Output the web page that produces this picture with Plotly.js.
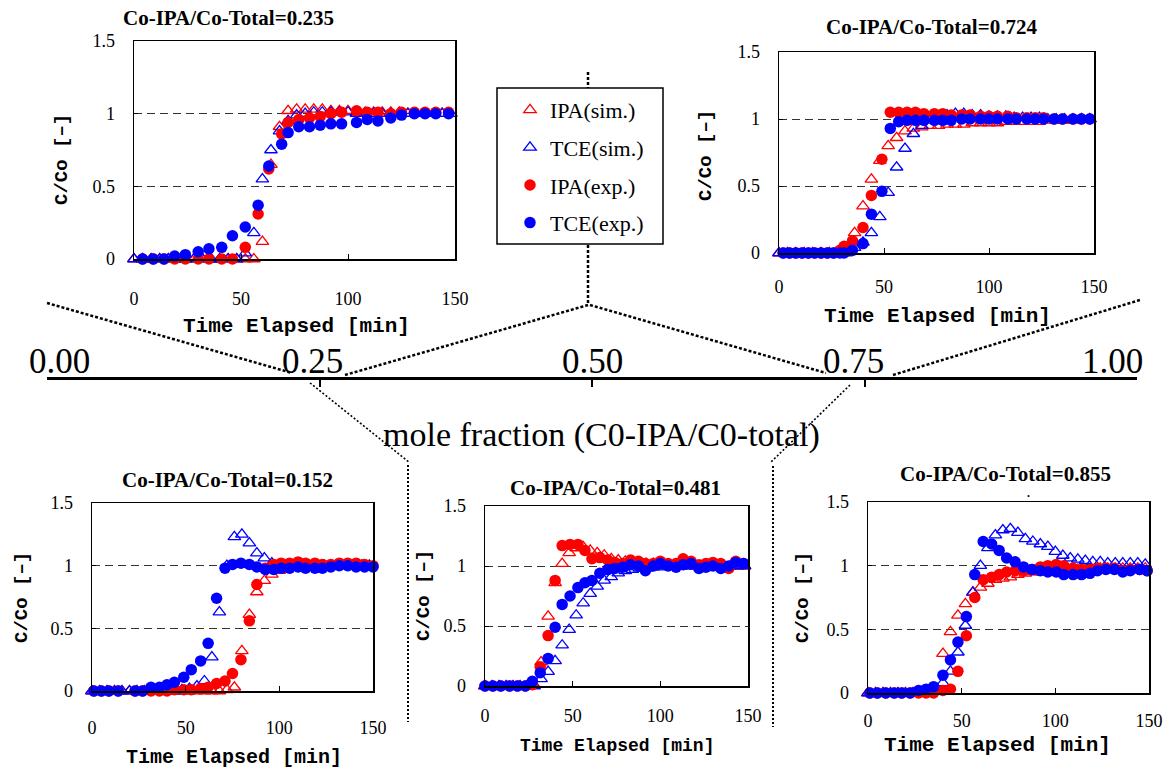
<!DOCTYPE html>
<html>
<head>
<meta charset="utf-8">
<script src="https://cdn.plot.ly/plotly-3.0.1.min.js"></script>
<style>
html, body { margin: 0; padding: 0; background: #ffffff; }
#chart { width: 1172px; height: 775px; }
</style>
</head>
<body>
<div id="chart"></div>
<script>
// ---- breakthrough data: C/Co vs elapsed time [min] ----
const panelTitles = [
  'Co-IPA/Co-Total=0.235',
  'Co-IPA/Co-Total=0.724',
  'Co-IPA/Co-Total=0.152',
  'Co-IPA/Co-Total=0.481',
  'Co-IPA/Co-Total=0.855'
];
const seriesNames = ['IPA(sim.)', 'TCE(sim.)', 'IPA(exp.)', 'TCE(exp.)'];

// simulation time grid
const tSim = [0, 4, 8, 12, 16, 20, 24, 28, 32, 36, 40, 44, 48, 52, 56, 60, 64, 68, 72, 76,
  80, 84, 88, 92, 96, 100, 104, 108, 112, 116, 120, 124, 128, 132, 136, 140, 144, 148];

// 0.235
const ipaSim1 = [0, 0, 0, 0, 0, 0, 0, 0, 0, 0, 0, 0, 0, 0, 0, 0.12, 0.65, 0.91, 1.02, 1.03,
  1.03, 1.03, 1.03, 1.02, 1.02, 1.02, 1.01, 1.01, 1.01, 1.01, 1.01, 1.01, 1.0, 1.0, 1.0, 1.0, 1.0, 1.0];
const tceSim1 = [0, 0, 0, 0, 0, 0, 0, 0, 0, 0, 0, 0, 0, 0.04, 0.18, 0.55, 0.75, 0.88, 0.95, 0.99,
  1.0, 1.01, 1.01, 1.01, 1.01, 1.01, 1.0, 1.0, 1.0, 1.0, 1.0, 1.0, 1.0, 1.0, 1.0, 1.0, 1.0, 1.0];
const tExp1 = [4, 9, 14, 19, 24, 30, 35, 41, 46, 52, 58, 63, 69, 72, 77, 82, 87, 92, 97, 104,
  109, 114, 120, 125, 131, 136, 141, 147];
const ipaExp1 = [0, 0, 0, 0, 0, 0, 0, 0, 0, 0.08, 0.31, 0.62, 0.86, 0.94, 0.96, 0.97, 0.98, 1.0, 1.01, 1.02,
  1.01, 1.01, 1.0, 1.01, 1.01, 1.01, 1.01, 1.01];
const tceExp1 = [0, 0, 0, 0.02, 0.03, 0.05, 0.07, 0.08, 0.16, 0.22, 0.37, 0.64, 0.79, 0.87, 0.91, 0.91, 0.92, 0.93, 0.93, 0.94,
  0.96, 0.95, 0.97, 0.99, 1.0, 1.0, 1.0, 1.0];

// 0.724
const ipaSim2 = [0, 0, 0, 0, 0, 0, 0, 0, 0.02, 0.15, 0.35, 0.55, 0.69, 0.80, 0.86, 0.91, 0.93, 0.94, 0.95, 0.95,
  0.96, 0.96, 0.96, 0.97, 0.97, 0.97, 0.97, 0.98, 0.98, 0.98, 0.98, 0.98, 0.99, 0.99, 0.99, 0.99, 1.0, 1.0];
const tceSim2 = [0, 0, 0, 0, 0, 0, 0, 0, 0, 0.04, 0.08, 0.15, 0.27, 0.45, 0.64, 0.78, 0.89, 0.95, 0.99, 1.02,
  1.03, 1.04, 1.04, 1.03, 1.03, 1.02, 1.02, 1.02, 1.01, 1.01, 1.01, 1.01, 1.0, 1.0, 1.0, 1.0, 1.0, 1.0];
const tExp2 = [2, 5, 8, 11, 14, 17, 20, 23, 26, 29, 31, 35, 40, 44, 49, 53, 57, 61, 65, 69,
  74, 78, 82, 87, 91, 96, 100, 104, 109, 113, 118, 122, 126, 131, 135, 140, 144, 148];
const ipaExp2 = [0, 0, 0, 0, 0, 0, 0, 0, 0, 0.02, 0.05, 0.09, 0.19, 0.43, 0.70, 1.05, 1.05, 1.05, 1.05, 1.04,
  1.04, 1.04, 1.03, 1.03, 1.03, 1.02, 1.02, 1.02, 1.02, 1.01, 1.01, 1.01, 1.01, 1.0, 1.0, 1.0, 1.0, 1.0];
const tceExp2 = [0, 0, 0, 0, 0, 0, 0, 0, 0, 0, 0, 0.02, 0.07, 0.29, 0.46, 0.93, 0.98, 0.99, 0.99, 0.99,
  0.99, 0.99, 0.99, 1.0, 1.0, 1.0, 1.0, 1.0, 1.0, 1.0, 1.0, 1.0, 1.0, 1.0, 1.0, 1.0, 1.0, 1.0];

// 0.152
const ipaSim3 = [0, 0, 0, 0, 0, 0, 0, 0, 0, 0, 0, 0, 0, 0, 0, 0, 0, 0, 0.01, 0.03,
  0.32, 0.61, 0.79, 0.88, 0.93, 0.96, 0.98, 0.99, 1.0, 1.0, 1.0, 1.0, 1.0, 1.0, 1.0, 1.0, 1.0, 1.0];
const tceSim3 = [0, 0, 0, 0, 0, 0, 0, 0, 0, 0, 0, 0, 0.01, 0.02, 0.04, 0.08, 0.27, 0.63, 1.0, 1.23,
  1.25, 1.18, 1.10, 1.06, 1.02, 1.01, 1.0, 1.0, 1.0, 1.0, 1.0, 1.0, 1.0, 1.0, 1.0, 1.0, 1.0, 1.0];
const tExp3 = [1, 5, 9, 14, 23, 27, 31.5, 36, 40, 44, 49, 53, 58, 62, 66.5, 71, 75, 79.5, 84, 88,
  92.5, 97, 101, 105.5, 110, 114, 119, 123, 127.5, 132, 136.5, 141, 145.5, 150];
const ipaExp3 = [0, 0, 0, 0, 0, 0, 0, 0, 0, 0.01, 0.01, 0.01, 0.02, 0.03, 0.06, 0.08, 0.14, 0.25, 0.56, 0.85,
  0.98, 1.01, 1.02, 1.02, 1.03, 1.02, 1.02, 1.01, 1.01, 1.02, 1.02, 1.02, 1.01, 1.0];
const tceExp3 = [0, 0, 0, 0, 0, 0, 0.03, 0.03, 0.05, 0.07, 0.11, 0.17, 0.24, 0.38, 0.74, 0.98, 1.01, 1.02, 1.01, 0.99,
  0.97, 0.97, 0.98, 0.98, 0.99, 0.98, 0.98, 0.98, 0.99, 1.0, 1.0, 0.99, 0.99, 0.99];

// 0.481
const ipaSim4 = [0, 0, 0, 0, 0, 0, 0, 0.01, 0.2, 0.58, 0.86, 1.02, 1.11, 1.15, 1.16, 1.13, 1.11, 1.09, 1.06, 1.05,
  1.04, 1.03, 1.03, 1.02, 1.02, 1.01, 1.01, 1.01, 1.01, 1.0, 1.0, 1.0, 1.0, 1.0, 1.0, 1.0, 1.0, 1.0];
const tceSim4 = [0, 0, 0, 0, 0, 0, 0, 0, 0.06, 0.12, 0.21, 0.34, 0.47, 0.59, 0.69, 0.77, 0.83, 0.88, 0.91, 0.94,
  0.96, 0.97, 0.98, 0.98, 0.99, 0.99, 1.0, 1.0, 1.0, 1.0, 1.0, 1.0, 1.0, 1.0, 1.0, 1.0, 1.0, 1.0];
const tExp4 = [0, 4.5, 9, 14, 18.5, 23, 27, 31.5, 36, 40, 44, 48.5, 53, 57, 61, 65.5, 70, 74, 78.5, 83,
  87.5, 91.5, 96, 100, 104.5, 109, 113, 117.5, 122, 126, 130, 134.5, 139, 143, 147.5];
const ipaExp4 = [0, 0, 0, 0, 0, 0, 0.01, 0.16, 0.42, 0.88, 1.17, 1.18, 1.18, 1.13, 1.06, 1.07, 1.05, 1.03, 1.02, 1.05,
  1.04, 1.02, 1.02, 1.04, 1.02, 1.02, 1.06, 1.04, 1.01, 1.02, 1.03, 1.02, 0.98, 1.04, 1.02];
const tceExp4 = [0, 0, 0, 0, 0, 0, 0.04, 0.11, 0.23, 0.49, 0.68, 0.75, 0.82, 0.86, 0.88, 0.94, 0.97, 0.98, 0.99, 1.01,
  1.0, 0.96, 1.0, 1.02, 1.0, 0.99, 1.01, 1.02, 0.98, 0.99, 1.0, 0.98, 1.0, 1.03, 1.02];

// 0.855
const ipaSim5 = [0, 0, 0, 0, 0, 0, 0, 0, 0, 0.02, 0.31, 0.48, 0.61, 0.70, 0.79, 0.83, 0.86, 0.89, 0.90, 0.91,
  0.93, 0.94, 0.95, 0.95, 0.96, 0.96, 0.97, 0.97, 0.97, 0.97, 0.97, 0.98, 0.98, 0.98, 0.98, 0.98, 0.98, 0.98];
const tceSim5 = [0, 0, 0, 0, 0, 0, 0, 0, 0, 0.02, 0.08, 0.17, 0.32, 0.53, 0.79, 1.0, 1.14, 1.24, 1.28, 1.29,
  1.26, 1.21, 1.19, 1.17, 1.15, 1.11, 1.08, 1.06, 1.05, 1.04, 1.03, 1.03, 1.02, 1.02, 1.02, 1.02, 1.02, 1.01];
const tExp5 = [1, 5, 9.5, 14, 18, 22.5, 27, 31, 35, 40, 44, 48, 52.5, 57, 61.5, 66, 70, 74, 78.5, 83,
  87.5, 92, 96, 100.5, 104.5, 109.5, 114, 118.5, 122.5, 127, 131.5, 136, 140, 145, 149];
const ipaExp5 = [0, 0, 0, 0, 0, 0, 0, 0, 0, 0.02, 0.03, 0.17, 0.45, 0.75, 0.89, 0.91, 0.93, 0.95, 0.96, 0.96,
  0.97, 0.99, 1.0, 1.01, 1.0, 0.98, 0.97, 0.97, 0.98, 0.98, 0.98, 0.96, 0.97, 0.97, 0.96];
const tceExp5 = [0, 0, 0, 0, 0, 0, 0.02, 0.03, 0.05, 0.14, 0.26, 0.40, 0.60, 0.93, 1.19, 1.17, 1.12, 1.06, 1.03, 0.99,
  0.97, 0.96, 0.95, 0.95, 0.93, 0.93, 0.93, 0.94, 0.96, 0.97, 0.97, 0.95, 0.96, 0.97, 0.96];

// axis ticks
const timeTicks = [0, 50, 100, 150];
const concTicks = [0, 0.5, 1, 1.5];
const concTickText = ['0', '0.5', '1', '1.5'];
const fractionTicks = [0, 0.25, 0.5, 0.75, 1];
const fractionTickText = ['0.00', '0.25', '0.50', '0.75', '1.00'];
const fractionAxisTitle = 'mole fraction (C0-IPA/C0-total)';
const timeAxisTitle = 'Time Elapsed [min]';
const concAxisTitle = 'C/Co [–]';

const panelData = [
  { ipaSim: ipaSim1, tceSim: tceSim1, tExp: tExp1, ipaExp: ipaExp1, tceExp: tceExp1 },
  { ipaSim: ipaSim2, tceSim: tceSim2, tExp: tExp2, ipaExp: ipaExp2, tceExp: tceExp2 },
  { ipaSim: ipaSim3, tceSim: tceSim3, tExp: tExp3, ipaExp: ipaExp3, tceExp: tceExp3 },
  { ipaSim: ipaSim4, tceSim: tceSim4, tExp: tExp4, ipaExp: ipaExp4, tceExp: tceExp4 },
  { ipaSim: ipaSim5, tceSim: tceSim5, tExp: tExp5, ipaExp: ipaExp5, tceExp: tceExp5 }
];

// ---- page geometry (pixels in the 1172 x 775 canvas) ----
const W = 1172, H = 775;
const px = x => x / W;
const py = y => 1 - y / H;

// plot frames: [left, right, top, bottom], label standoffs and text anchors
const frames = [
  { box: [134, 455, 41, 259], xStand: 23, title: [228, 18], ylab: [62, 160], xlab: [296, 327], xlabSize: 21 },
  { box: [779, 1094, 52, 253], xStand: 17, title: [932, 27], ylab: [706, 156], xlab: [937, 316], xlabSize: 21 },
  { box: [92, 373, 503, 691], xStand: 20, title: [227, 480], ylab: [22, 598], xlab: [234, 757], xlabSize: 20 },
  { box: [485, 748, 506, 686], xStand: 13, title: [615, 488], ylab: [424, 596], xlab: [617, 746], xlabSize: 18 },
  { box: [868, 1149, 502, 693], xStand: 11, title: [1005, 474], ylab: [803, 598], xlab: [997, 745], xlabSize: 21 }
];

// horizontal nudges of the number-line labels relative to their ticks
const fractionLabelShift = [12, -7, 0, -11, -25];

const RED = '#ff0000', BLUE = '#0000ff';
const serif = 'Liberation Serif, Times New Roman, serif';
const mono = 'Liberation Mono, DejaVu Sans Mono, monospace';

const traces = [];
const layout = {
  width: W, height: H,
  margin: { l: 0, r: 0, t: 0, b: 0 },
  paper_bgcolor: '#ffffff',
  plot_bgcolor: 'rgba(0,0,0,0)',
  showlegend: true,
  legend: {
    x: px(510), y: py(89), xanchor: 'left', yanchor: 'top',
    bgcolor: 'rgba(0,0,0,0)', borderwidth: 0,
    font: { family: serif, size: 22, color: '#000' },
    traceorder: 'grouped', tracegroupgap: 6, itemwidth: 30
  },
  shapes: [], annotations: []
};

panelData.forEach((d, i) => {
  const n = i + 1;
  const xa = n === 1 ? 'x' : 'x' + n;
  const ya = n === 1 ? 'y' : 'y' + n;
  const show = n === 1;
  const common = { mode: 'markers', xaxis: xa, yaxis: ya, cliponaxis: false, hoverinfo: 'x+y' };
  traces.push(Object.assign({}, common, {
    x: tSim, y: d.ipaSim, name: seriesNames[0], legendgroup: 'g0', showlegend: show,
    marker: { symbol: 'triangle-up-open', size: 11, color: RED, line: { width: 1.3, color: RED } }
  }));
  traces.push(Object.assign({}, common, {
    x: tSim, y: d.tceSim, name: seriesNames[1], legendgroup: 'g1', showlegend: show,
    marker: { symbol: 'triangle-up-open', size: 11, color: BLUE, line: { width: 1.3, color: BLUE } }
  }));
  traces.push(Object.assign({}, common, {
    x: d.tExp, y: d.ipaExp, name: seriesNames[2], legendgroup: 'g2', showlegend: show,
    marker: { symbol: 'circle', size: 11.5, color: RED }
  }));
  traces.push(Object.assign({}, common, {
    x: d.tExp, y: d.tceExp, name: seriesNames[3], legendgroup: 'g3', showlegend: show,
    marker: { symbol: 'circle', size: 11.5, color: BLUE }
  }));

  const f = frames[i];
  const [l, r, t, b] = f.box;
  layout['xaxis' + (n === 1 ? '' : n)] = {
    domain: [px(l), px(r)], range: [0, 150], anchor: ya,
    tickvals: timeTicks, ticks: 'inside', ticklen: 5, tickwidth: 1, tickcolor: '#000',
    showline: true, linecolor: '#000', linewidth: 1.5, mirror: true,
    showgrid: false, zeroline: false, ticklabelstandoff: f.xStand,
    tickfont: { family: serif, size: 18, color: '#000' }, fixedrange: true
  };
  layout['yaxis' + (n === 1 ? '' : n)] = {
    domain: [py(b), py(t)], range: [0, 1.5], anchor: xa,
    tickvals: concTicks, ticktext: concTickText, ticks: 'inside', ticklen: 4, tickwidth: 1, tickcolor: '#000',
    showline: true, linecolor: '#000', linewidth: 1.5, mirror: true,
    showgrid: true, gridcolor: '#333', gridwidth: 1, griddash: '8px,5px',
    zeroline: false, ticklabelstandoff: 14,
    tickfont: { family: serif, size: 18, color: '#000' }, fixedrange: true
  };

  layout.annotations.push({
    xref: 'paper', yref: 'paper', x: px(f.title[0]), y: py(f.title[1]),
    xanchor: 'center', yanchor: 'middle', showarrow: false,
    text: '<b>' + panelTitles[i] + '</b>', font: { family: serif, size: 21, color: '#000' }
  });
  layout.annotations.push({
    xref: 'paper', yref: 'paper', x: px(f.ylab[0]), y: py(f.ylab[1]),
    xanchor: 'center', yanchor: 'middle', showarrow: false, textangle: -90,
    text: '<b>' + concAxisTitle + '</b>', font: { family: mono, size: 19, color: '#000' }
  });
  layout.annotations.push({
    xref: 'paper', yref: 'paper', x: px(f.xlab[0]), y: py(f.xlab[1]),
    xanchor: 'center', yanchor: 'middle', showarrow: false,
    text: '<b>' + timeAxisTitle + '</b>', font: { family: mono, size: f.xlabSize, color: '#000' }
  });
});

// mole-fraction number line
traces.push({ x: [], y: [], xaxis: 'x6', yaxis: 'y6', type: 'scatter', mode: 'markers', showlegend: false });
layout.xaxis6 = {
  domain: [px(47), px(1137)], range: [0, 1], anchor: 'y6', side: 'top',
  tickvals: fractionTicks, showticklabels: false,
  ticks: 'inside', ticklen: 7, tickwidth: 2, tickcolor: '#000',
  showline: true, linecolor: '#000', linewidth: 3.5,
  showgrid: false, zeroline: false, fixedrange: true
};
layout.yaxis6 = { domain: [py(382), py(380)], range: [0, 1], anchor: 'x6', visible: false, fixedrange: true };

fractionTicks.forEach((v, k) => {
  layout.annotations.push({
    xref: 'x6', yref: 'paper', x: v, y: py(379), xanchor: 'center', yanchor: 'bottom',
    xshift: fractionLabelShift[k], yshift: -4,
    showarrow: false, text: fractionTickText[k], font: { family: serif, size: 35, color: '#000' }
  });
});

layout.annotations.push({
  xref: 'paper', yref: 'paper', x: px(601), y: py(435), xanchor: 'center', yanchor: 'middle',
  showarrow: false, text: fractionAxisTitle, font: { family: serif, size: 34, color: '#000' }
});
layout.annotations.push({
  xref: 'paper', yref: 'paper', x: px(1028), y: py(493), xanchor: 'center', yanchor: 'middle',
  showarrow: false, text: '<b>.</b>', font: { family: serif, size: 12, color: '#000' }
});

// legend frame
layout.shapes.push({
  type: 'rect', xref: 'paper', yref: 'paper',
  x0: px(497), x1: px(663), y0: py(244), y1: py(88),
  line: { color: '#000', width: 1.5 }, fillcolor: 'rgba(0,0,0,0)'
});

// connector lines between the plots and the number line
const seg = (x0, y0, x1, y1, width, dash) => ({
  type: 'line', xref: 'paper', yref: 'paper',
  x0: px(x0), y0: py(y0), x1: px(x1), y1: py(y1),
  line: { color: '#000', width: width, dash: dash }
});
const upperDash = '3px,2px';
const lowerDash = '2px,2px';
layout.shapes.push(
  seg(588, 72, 588, 88, 2.5, upperDash),
  seg(588, 245, 588, 303, 2.5, upperDash),
  seg(47, 303, 292, 373, 2.5, upperDash),
  seg(345, 375, 588, 305, 2.5, upperDash),
  seg(590, 305, 826, 373, 2.5, upperDash),
  seg(893, 375, 1140, 300, 2.5, upperDash),
  seg(310, 383, 410, 463, 1.6, lowerDash),
  seg(408, 465, 408, 722, 2, lowerDash),
  seg(850, 385, 770, 463, 1.6, lowerDash),
  seg(773, 466, 773, 727, 2, lowerDash)
);

Plotly.newPlot('chart', traces, layout, { staticPlot: true, displayModeBar: false });
</script>
</body>
</html>
